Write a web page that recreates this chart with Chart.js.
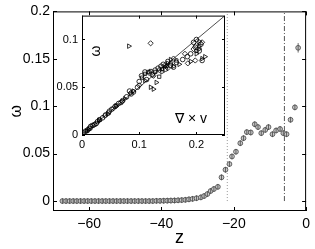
<!DOCTYPE html>
<html>
<head>
<meta charset="utf-8">
<script src="https://cdn.jsdelivr.net/npm/chart.js@4.4.1/dist/chart.umd.min.js"></script>
<style>
  body { margin: 0; background: #fff; }
  #wrap { position: relative; width: 315px; height: 249px; }
  #main { position: absolute; left: 0; top: 0; }
  #inset { position: absolute; left: 55px; top: 5px; }
</style>
</head>
<body>
<div id="wrap">
  <canvas id="main" width="315" height="249"></canvas>
  <canvas id="inset" width="175" height="150"></canvas>
</div>
<script>
// main plot: omega vs z
const zValues = [-67.4,-66.4,-65.4,-64.4,-63.4,-62.4,-61.4,-60.4,-59.4,-58.4,-57.4,-56.4,-55.4,-54.4,-53.4,-52.4,-51.4,-50.4,-49.4,-48.4,
  -47.4,-46.4,-45.4,-44.4,-43.4,-42.4,-41.4,-40.4,-39.4,-38.4,-37.4,-36.4,-35.4,-34.4,-33.4,-32.4,-31.4,-30.3,
  -29.1,-28.2,-27.3,-26.4,-25.5,-24.4,-23.4,-22.3,-21.2,-20.5,-19.4,-18.2,-17.3,-16.4,-15.3,-14.2,-13.3,-12.4,-11.3,-10.4,
  -9.3,-8.3,-7.2,-6.3,-5.4,-4.3,-3.1,-2.2];
const omegaValues = [0,0,0,0,0,0,0,0,0,0,0,0,0,0,0,0,0,0,0,0,
  0,0,0,0,0,0,0.0002,0.0002,0.0003,0.0004,0.0005,0.0006,0.0008,0.001,0.0013,0.0018,0.0023,0.003,
  0.0039,0.0053,0.0074,0.0106,0.0127,0.015,0.025,0.033,0.039,0.047,0.052,0.061,0.0663,0.0727,0.0723,0.081,0.078,0.0716,0.075,0.078,
  0.0705,0.0744,0.076,0.0716,0.0705,0.0857,0.0988,0.1616];
const omegaErr = 0.003;      // half length of the small error bars
const lastErr = 0.005;       // the isolated point near z = -2
const dottedZ = -21.8;
const dashDotZ = -6.0;
const zTicks = [-60, -40, -20, 0];
const omegaTicks = [0, 0.05, 0.1, 0.15, 0.2];

// inset: omega vs curl v
const circPts = [[0.003,0.002],[0.006,0.004],[0.01,0.005],[0.014,0.007],[0.018,0.01],[0.022,0.011],[0.027,0.014],[0.031,0.016],
  [0.036,0.018],[0.041,0.021],[0.046,0.023],[0.052,0.027],[0.058,0.03],[0.064,0.033],[0.071,0.036],[0.078,0.04],[0.083,0.046],
  [0.09,0.045],[0.097,0.05],[0.1,0.056],[0.104,0.062],[0.11,0.066],[0.113,0.058],[0.118,0.065],[0.123,0.063],[0.128,0.068],
  [0.133,0.07],[0.138,0.072],[0.142,0.074],[0.146,0.069],[0.15,0.077],[0.155,0.073],[0.16,0.071],[0.165,0.076],[0.176,0.079],
  [0.184,0.082],[0.19,0.085],[0.195,0.097],[0.198,0.092],[0.2,0.1],[0.205,0.088],[0.208,0.095],[0.21,0.078],[0.015,0.009],
  [0.025,0.012],[0.048,0.025],[0.068,0.034],[0.086,0.043]];
const triPts = [[0.082,0.093],[0.12,0.05],[0.125,0.048],[0.13,0.055],[0.14,0.066],[0.145,0.071],[0.15,0.075],[0.155,0.079],
  [0.16,0.072],[0.17,0.074],[0.19,0.077],[0.2,0.085],[0.205,0.09],[0.21,0.08],[0.215,0.082],[0.205,0.098],[0.03,0.015],
  [0.06,0.03],[0.09,0.046],[0.11,0.057],[0.012,0.006],[0.045,0.022],[0.075,0.038]];
const diaPts = [[0.12,0.096],[0.01,0.006],[0.04,0.02],[0.07,0.035],[0.1,0.052],[0.125,0.062],[0.135,0.068],[0.145,0.073],
  [0.15,0.07],[0.16,0.08],[0.18,0.085],[0.185,0.075],[0.195,0.09],[0.2,0.094],[0.21,0.097],[0.198,0.078],[0.02,0.01],
  [0.055,0.028],[0.085,0.044]];
const sqPts = [[0.105,0.06],[0.11,0.064],[0.116,0.066],[0.12,0.067],[0.128,0.066],[0.135,0.061],[0.14,0.069],[0.148,0.072],
  [0.155,0.075],[0.165,0.078],[0.2,0.088],[0.205,0.093],[0.03,0.016],[0.06,0.031],[0.008,0.004]];
const refLine = [[0, 0], [0.25, 0.125]];
const curlTicks = [0, 0.1, 0.2];
const insetOmegaTicks = [0, 0.05, 0.1];

const FONT = "'Liberation Sans', Arial, sans-serif";
const plain = v => String(+(+v).toFixed(4));
const minus = v => (v < 0 ? '\u2212' + Math.abs(v) : plain(v));
const toXY = pts => pts.map(p => ({ x: p[0], y: p[1] }));

// box round the plot area with inward ticks on all four sides
function boxPlugin(len) {
  return {
    id: 'box',
    afterDraw(chart) {
      const { ctx, chartArea: a, scales: { x, y } } = chart;
      ctx.save();
      ctx.strokeStyle = '#000';
      ctx.lineWidth = 1;
      ctx.strokeRect(a.left + 0.5, a.top + 0.5, a.right - a.left - 1, a.bottom - a.top - 1);
      ctx.beginPath();
      x.ticks.forEach(t => {
        const px = Math.round(x.getPixelForValue(t.value)) + 0.5;
        ctx.moveTo(px, a.bottom); ctx.lineTo(px, a.bottom - len);
        ctx.moveTo(px, a.top); ctx.lineTo(px, a.top + len);
      });
      y.ticks.forEach(t => {
        const py = Math.round(y.getPixelForValue(t.value)) + 0.5;
        ctx.moveTo(a.left, py); ctx.lineTo(a.left + len, py);
        ctx.moveTo(a.right, py); ctx.lineTo(a.right - len, py);
      });
      ctx.stroke();
      ctx.restore();
    }
  };
}

const errorBars = {
  id: 'errorBars',
  afterDatasetsDraw(chart) {
    const { ctx, scales: { y } } = chart;
    const meta = chart.getDatasetMeta(0);
    ctx.save();
    ctx.strokeStyle = '#444';
    ctx.lineWidth = 0.8;
    ctx.beginPath();
    meta.data.forEach((pt, i) => {
      const e = i === omegaValues.length - 1 ? lastErr : omegaErr;
      ctx.moveTo(pt.x, y.getPixelForValue(omegaValues[i] - e));
      ctx.lineTo(pt.x, y.getPixelForValue(omegaValues[i] + e));
    });
    ctx.stroke();
    ctx.restore();
  }
};

new Chart(document.getElementById('main'), {
  type: 'scatter',
  data: {
    datasets: [
      {
        data: zValues.map((z, i) => ({ x: z, y: omegaValues[i] })),
        pointStyle: 'circle',
        pointRadius: 2.4,
        backgroundColor: '#c8c8c8',
        borderColor: '#444',
        borderWidth: 0.8
      },
      {
        type: 'line',
        data: [{ x: dottedZ, y: 0 }, { x: dottedZ, y: 0.2 }],
        borderColor: '#999',
        borderWidth: 1,
        borderDash: [1, 2],
        pointRadius: 0
      },
      {
        type: 'line',
        data: [{ x: dashDotZ, y: 0 }, { x: dashDotZ, y: 0.2 }],
        borderColor: '#555',
        borderWidth: 1,
        borderDash: [5, 2, 1, 2],
        pointRadius: 0
      }
    ]
  },
  options: {
    responsive: false,
    animation: false,
    layout: { padding: { left: 0, top: 11, right: 7, bottom: 0 } },
    plugins: { legend: { display: false }, tooltip: { enabled: false } },
    scales: {
      x: {
        type: 'linear', min: -70, max: 0,
        afterBuildTicks: s => { s.ticks = zTicks.map(v => ({ value: v })); },
        afterFit: s => { s.height = 38; },
        grid: { display: false, drawTicks: false },
        border: { display: false },
        ticks: { font: { family: FONT, size: 14 }, color: '#000', padding: 5, maxRotation: 0, callback: minus },
        title: { display: true, text: 'z', font: { family: FONT, size: 18 }, color: '#000', padding: 0 }
      },
      y: {
        type: 'linear', min: -0.0105, max: 0.2,
        afterBuildTicks: s => { s.ticks = omegaTicks.map(v => ({ value: v })); },
        afterFit: s => { s.width = 53; },
        grid: { display: false, drawTicks: false },
        border: { display: false },
        ticks: { font: { family: FONT, size: 14 }, color: '#000', padding: 3, callback: plain },
        title: { display: true, text: 'ω', font: { family: FONT, size: 16 }, color: '#000', padding: { top: 7, bottom: 0 } }
      }
    }
  },
  plugins: [boxPlugin(4), errorBars]
});

// white background and the two labels that sit inside the inset
const insetDecor = {
  id: 'insetDecor',
  beforeDraw(chart) {
    const { ctx, chartArea: a } = chart;
    ctx.save();
    ctx.fillStyle = '#fff';
    ctx.fillRect(a.left, a.top, a.right - a.left, a.bottom - a.top);
    ctx.restore();
  },
  afterDraw(chart) {
    const { ctx } = chart;
    ctx.save();
    ctx.fillStyle = '#000';
    ctx.textAlign = 'center';
    ctx.textBaseline = 'middle';
    ctx.font = '14px ' + FONT;
    ctx.fillText('\u2207 \u00d7 v', 136, 114);
    ctx.translate(41, 46);
    ctx.rotate(-Math.PI / 2);
    ctx.font = '14px ' + FONT;
    ctx.fillText('ω', 0, 0);
    ctx.restore();
  }
};

const marker = { borderColor: '#000', backgroundColor: 'rgba(0,0,0,0)', borderWidth: 0.8 };

new Chart(document.getElementById('inset'), {
  type: 'scatter',
  data: {
    datasets: [
      { type: 'line', data: toXY(refLine), borderColor: '#000', borderWidth: 0.7, pointRadius: 0 },
      Object.assign({ data: toXY(circPts), pointStyle: 'circle', pointRadius: 2.3 }, marker),
      Object.assign({ data: toXY(triPts), pointStyle: 'triangle', pointRotation: 90, pointRadius: 2.6 }, marker),
      Object.assign({ data: toXY(diaPts), pointStyle: 'rectRot', pointRadius: 2.6 }, marker),
      Object.assign({ data: toXY(sqPts), pointStyle: 'rect', pointRadius: 2.3 }, marker)
    ]
  },
  options: {
    responsive: false,
    animation: false,
    layout: { padding: { left: 0, top: 10, right: 5, bottom: 0 } },
    plugins: { legend: { display: false }, tooltip: { enabled: false } },
    scales: {
      x: {
        type: 'linear', min: 0, max: 0.25,
        afterBuildTicks: s => { s.ticks = curlTicks.map(v => ({ value: v })); },
        afterFit: s => { s.height = 20; },
        grid: { display: false, drawTicks: false },
        border: { display: false },
        ticks: { font: { family: FONT, size: 11 }, color: '#000', padding: 3, maxRotation: 0, callback: plain }
      },
      y: {
        type: 'linear', min: 0, max: 0.125,
        afterBuildTicks: s => { s.ticks = insetOmegaTicks.map(v => ({ value: v })); },
        afterFit: s => { s.width = 27; },
        grid: { display: false, drawTicks: false },
        border: { display: false },
        ticks: { font: { family: FONT, size: 11 }, color: '#000', padding: 4, callback: plain }
      }
    }
  },
  plugins: [insetDecor, boxPlugin(3)]
});
</script>
</body>
</html>
